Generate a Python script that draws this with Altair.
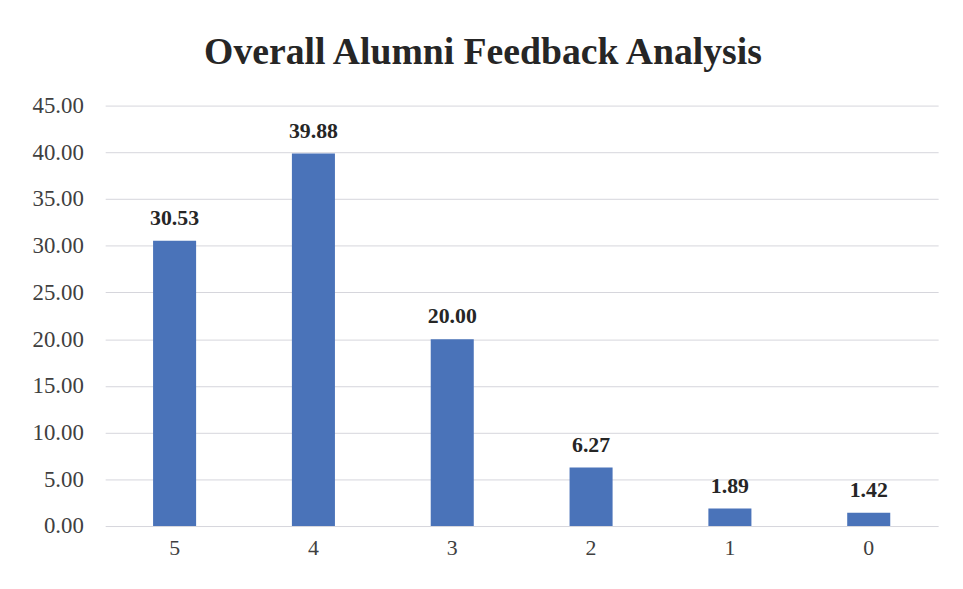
import altair as alt
import pandas as pd

categories = ["5", "4", "3", "2", "1", "0"]
values = [30.53, 39.88, 20.00, 6.27, 1.89, 1.42]
y_ticks = [0, 5, 10, 15, 20, 25, 30, 35, 40, 45]

df = pd.DataFrame({"rating": categories, "pct": values})

SERIF = "Liberation Serif"

x_enc = alt.X(
    "rating:N",
    sort=categories,
    title=None,
    scale=alt.Scale(paddingInner=0.69, paddingOuter=0.345),
    axis=alt.Axis(
        labelAngle=0,
        labelFont=SERIF,
        labelFontSize=22,
        labelColor="#404040",
        labelPadding=12,
        ticks=False,
        domain=False,
        grid=False,
    ),
)
y_enc = alt.Y(
    "pct:Q",
    title=None,
    scale=alt.Scale(domain=[0, 45]),
    axis=alt.Axis(
        values=y_ticks,
        format=".2f",
        labelFont=SERIF,
        labelFontSize=23,
        labelColor="#404040",
        labelPadding=22,
        ticks=False,
        domain=False,
        grid=True,
        gridColor="#d6d6dc",
        gridWidth=1,
    ),
)

base = alt.Chart(df)
bars = base.mark_bar(color="#4a73b9").encode(x=x_enc, y=y_enc)
labels = base.mark_text(
    baseline="bottom",
    dy=-11,
    font=SERIF,
    fontSize=22,
    fontWeight="bold",
    color="#262626",
).encode(x=x_enc, y=y_enc, text=alt.Text("pct:Q", format=".2f"))

chart = (
    alt.layer(bars, labels)
    .properties(
        width=840,
        height=424,
        view=alt.ViewBackground(strokeWidth=0, strokeOpacity=0),
        autosize=alt.AutoSizeParams(type="none"),
        padding={"left": 98, "top": 96, "right": 17, "bottom": 53},
        title=alt.Title(
            "Overall Alumni Feedback Analysis",
            font=SERIF,
            fontSize=38,
            fontWeight="bold",
            color="#262626",
            anchor="middle",
            frame="group",
            baseline="alphabetic",
            offset=0,
            dx=-39,
            dy=7,
        ),
    )
    .configure_view(stroke="transparent", strokeWidth=0, strokeOpacity=0)
    .configure_axisX(grid=False, domain=False)
    .configure(background="white")
)

chart.save("out.html", embed_options={"renderer": "svg", "actions": False})
